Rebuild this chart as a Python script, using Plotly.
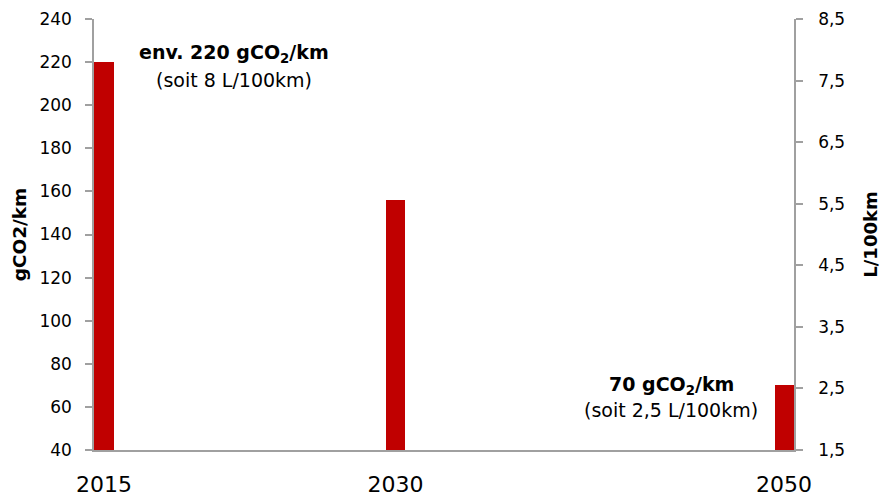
import plotly.graph_objects as go

# Emissions moyennes des voitures neuves (gCO2/km)
years = [2015, 2030, 2050]
emissions = [220, 156, 70]
year_labels = ["2015", "2030", "2050"]

left_ticks = list(range(40, 241, 20))
right_ticks = [1.5, 2.5, 3.5, 4.5, 5.5, 6.5, 7.5, 8.5]

bar_color = "#C00000"
axis_color = "#A0A0A0"
font_family = "DejaVu Sans, Verdana, sans-serif"

fig = go.Figure()
fig.add_trace(go.Bar(
    x=years, y=emissions, width=0.98,
    marker=dict(color=bar_color, line=dict(width=0)),
    showlegend=False, hoverinfo="skip",
))
# secondary axis carrier (L/100km)
fig.add_trace(go.Scatter(x=[], y=[], yaxis="y2", showlegend=False))

fig.update_layout(
    width=885, height=497,
    margin=dict(l=94, r=91, t=19, b=47, autoexpand=False),
    paper_bgcolor="white", plot_bgcolor="white",
    separators=", ",
    font=dict(family=font_family, color="black", size=17),
    bargap=0,
    xaxis=dict(
        range=[2014.485, 2050.51],
        tickvals=years, ticktext=year_labels,
        tickfont=dict(size=22),
        showgrid=False, zeroline=False, automargin=False,
        showline=True, linecolor=axis_color, linewidth=1.5,
        ticks="", ticklabelstandoff=14,
    ),
    yaxis=dict(
        range=[40, 240], tickvals=left_ticks,
        showgrid=False, zeroline=False, automargin=False,
        showline=True, linecolor=axis_color, linewidth=1.5,
        ticks="outside", ticklen=7, tickcolor=axis_color, tickwidth=1.5,
        ticklabelstandoff=10,
        tickfont=dict(size=17),
        title=dict(text="<b>gCO2/km</b>", font=dict(size=18.5), standoff=8),
    ),
    yaxis2=dict(
        overlaying="y", side="right",
        range=[1.5, 8.5], tickvals=right_ticks, tickformat=".1f",
        showgrid=False, zeroline=False, automargin=False,
        showline=True, linecolor=axis_color, linewidth=1.5,
        ticks="outside", ticklen=7, tickcolor=axis_color, tickwidth=1.5,
        ticklabelstandoff=12,
        tickfont=dict(size=17),
        title=dict(text="<b>L/100km</b>", font=dict(size=18), standoff=20),
    ),
)

notes = [
    (2021.7, 224.0, "<b>env. 220 gCO<sub>2</sub>/km</b>"),
    (2021.7, 211.7, "(soit 8 L/100km)"),
    (2044.18, 70.0, "<b>70 gCO<sub>2</sub>/km</b>"),
    (2044.18, 58.6, "(soit 2,5 L/100km)"),
]
for x, y, txt in notes:
    fig.add_annotation(x=x, y=y, xref="x", yref="y", text=txt,
                       showarrow=False, xanchor="center", yanchor="middle",
                       font=dict(size=19, family=font_family, color="black"))

fig.write_html("out.html")
